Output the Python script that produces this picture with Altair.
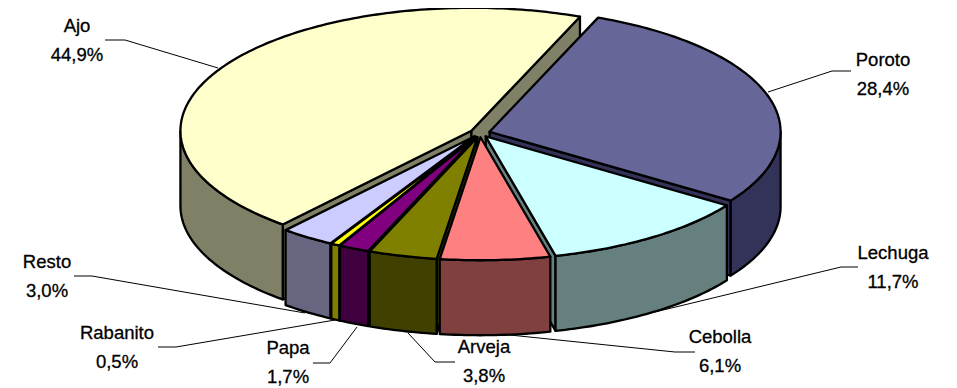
import math
import altair as alt

names = ["Poroto", "Lechuga", "Cebolla", "Arveja", "Papa", "Rabanito", "Resto", "Ajo"]
values = [28.4, 11.7, 6.1, 3.8, 1.7, 0.5, 3.0, 44.9]
top_colors = ["#666699", "#CCFFFF", "#FF8080", "#808000", "#800080", "#FFFF00", "#CCCCFF", "#FFFFCC"]
wall_colors = ["#333359", "#668080", "#804040", "#404000", "#400040", "#808000", "#666680", "#808066"]

# layout of the drawing (page pixels)
CX, CY, RX, RY, DEPTH, EXPLODE, START = 480, 133, 291, 123, 75, 0.0344, 21.9
OX, OY = 8, 8
LABEL_POS = {"Ajo": (77, 26), "Poroto": (883, 60), "Lechuga": (893, 253), "Cebolla": (720, 337),
             "Arveja": (484, 347), "Papa": (288, 348), "Rabanito": (117, 333), "Resto": (47, 262)}
LINE_GAP = 29
LEADERS = {"Ajo": [(105, 40), (125, 40), (218, 68)], "Poroto": [(851, 71), (832, 71), (768, 92)],
           "Lechuga": [(858, 267), (841, 267), (655, 312)], "Cebolla": [(695, 352), (675, 352), (500, 334)],
           "Arveja": [(455, 362), (435, 362), (408, 333)], "Papa": [(313, 363), (330, 363), (357, 327)],
           "Rabanito": [(158, 347), (176, 347), (335, 320)], "Resto": [(74, 276), (92, 276), (305, 313)]}
DRAW_ORDER = ["Ajo", "Poroto", "Lechuga", "Resto", "Rabanito", "Papa", "Arveja", "Cebolla"]

total = sum(values)
spans = {}
a = START
for n, v in zip(names, values):
    spans[n] = (a, a + v / total * 360)
    a = spans[n][1]


def feature(points, fill):
    ring = [[float(x), float(y)] for x, y in points]
    ring.append(ring[0])
    return {"type": "Feature", "geometry": {"type": "Polygon", "coordinates": [ring]}, "properties": {"fill": fill}}


def arc(ax, ay, t0, t1):
    n = max(2, int(abs(t1 - t0)) + 1)
    return [(ax + RX * math.sin(math.radians(t0 + (t1 - t0) * i / n)),
             ay - RY * math.cos(math.radians(t0 + (t1 - t0) * i / n))) for i in range(n + 1)]


shapes = []
for n in DRAW_ORDER:
    i = names.index(n)
    t0, t1 = spans[n]
    mid = math.radians((t0 + t1) / 2)
    ax = CX + EXPLODE * RX * math.sin(mid)
    ay = CY - EXPLODE * RY * math.cos(mid)
    for t, side in ((t0, -1), (t1, 1)):
        if math.cos(math.radians(t + side * 90)) < 0:
            rim = arc(ax, ay, t, t)[0]
            shapes.append(feature([(ax, ay), rim, (rim[0], rim[1] + DEPTH), (ax, ay + DEPTH)], wall_colors[i]))
    for k in range(0, 2):
        lo, hi = 90 + 360 * k, 270 + 360 * k
        w0, w1 = max(t0, lo), min(t1, hi)
        if w1 > w0:
            edge = arc(ax, ay, w0, w1)
            shapes.append(feature(edge + [(x, y + DEPTH) for x, y in reversed(edge)], wall_colors[i]))
    shapes.append(feature([(ax, ay)] + arc(ax, ay, t0, t1), top_colors[i]))

lines = [{"type": "Feature", "geometry": {"type": "LineString", "coordinates": [list(map(float, p)) for p in pts]},
          "properties": {"name": n}} for n, pts in LEADERS.items()]

rows = []
for n, v in zip(names, values):
    x, y = LABEL_POS[n]
    rows.append({"lon": x, "lat": y, "text": n})
    rows.append({"lon": x, "lat": y + LINE_GAP, "text": f"{v:.1f}".replace(".", ",") + "%"})

proj = dict(type="identity", scale=1, translate=[-OX, -OY])

pie = alt.Chart(alt.Data(values=shapes)).mark_geoshape(stroke="black", strokeWidth=2.3, strokeJoin="round").encode(
    fill=alt.Fill("properties.fill:N", scale=None)
).project(**proj)
leader = alt.Chart(alt.Data(values=lines)).mark_geoshape(filled=False, stroke="black", strokeWidth=1).encode(
    detail="properties.name:N"
).project(**proj)
text = alt.Chart(alt.Data(values=rows)).mark_text(
    font="Liberation Sans", fontSize=18.5, color="black", align="center", baseline="middle",
    stroke="black", strokeWidth=0.3
).encode(longitude="lon:Q", latitude="lat:Q", text="text:N").project(**proj)

chart = alt.layer(leader, pie, text).properties(
    width=941, height=380, padding=0, autosize=alt.AutoSizeParams(type="none")
).configure_view(stroke=None)

chart.save("out.html", embed_options={"renderer": "svg", "actions": False})
